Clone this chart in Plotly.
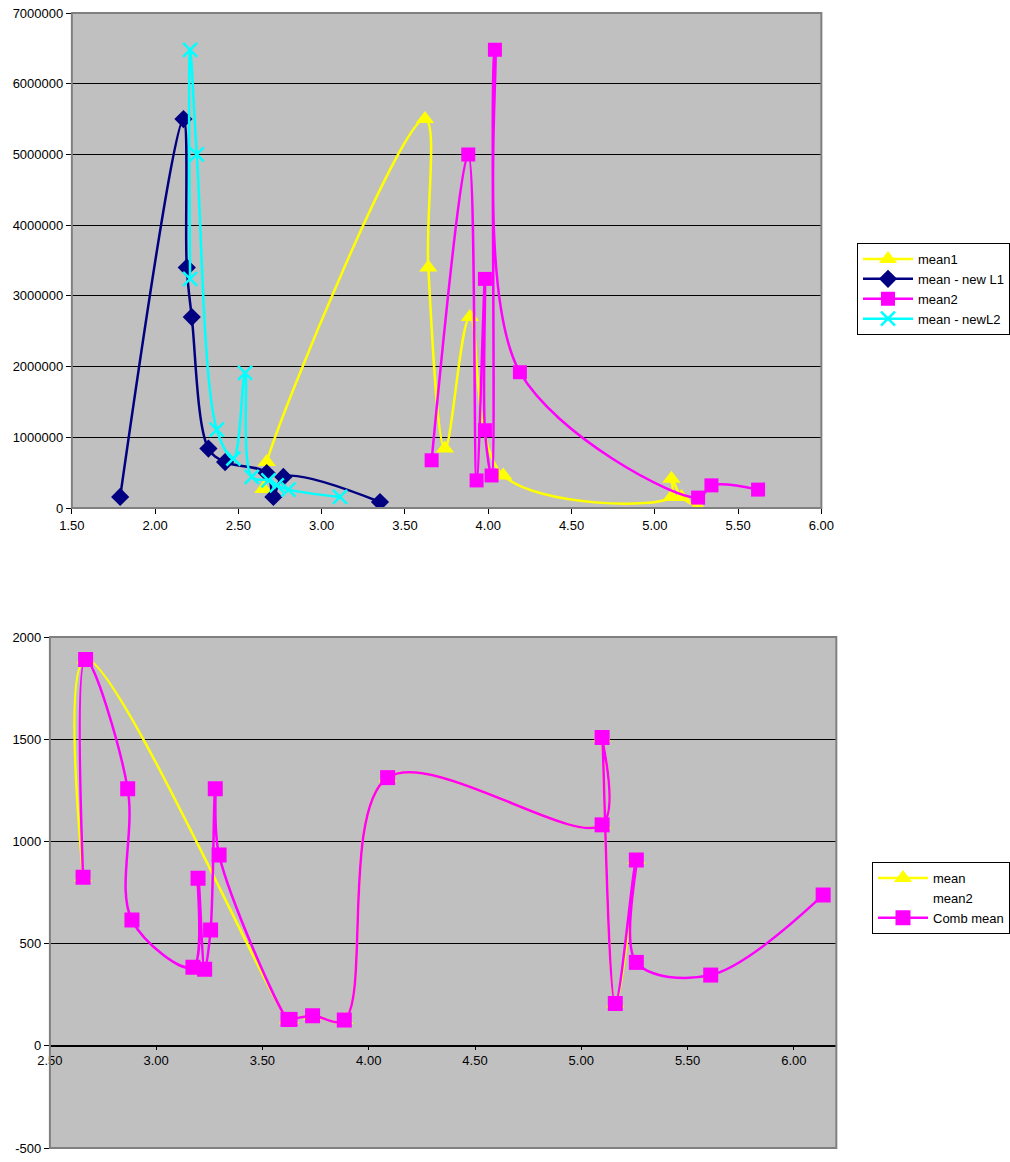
import plotly.graph_objects as go

# ---------------- Top chart data ----------------
mean1_x = [2.65, 2.67, 3.62, 3.64, 3.74, 3.89, 4.09, 5.10, 5.10, 5.16, 5.26]
mean1_y = [270000, 650000, 5500000, 3400000, 840000, 2700000, 460000, 156000, 415000, 156000, 10000]

newL1_x = [1.79, 2.17, 2.19, 2.22, 2.32, 2.42, 2.67, 2.71, 2.77, 3.35]
newL1_y = [156000, 5500000, 3400000, 2700000, 840000, 650000, 495000, 156000, 440000, 85000]

mean2_x = [3.66, 3.88, 3.93, 3.98, 3.98, 4.02, 4.04, 4.19, 5.26, 5.34, 5.62]
mean2_y = [675000, 5000000, 390000, 3240000, 1100000, 460000, 6480000, 1920000, 147000, 320000, 260000]

newL2_x = [2.21, 2.21, 2.25, 2.37, 2.47, 2.54, 2.58, 2.68, 2.73, 2.80, 3.11]
newL2_y = [3240000, 6480000, 5000000, 1110000, 700000, 1910000, 440000, 390000, 320000, 260000, 156000]

# ---------------- Bottom chart data ----------------
mean_x = [2.656, 2.668, 3.62, 3.63, 3.736, 3.885, 4.089, 5.098, 5.098, 5.16, 5.259]
mean_y = [825, 1890, 129, 129, 147, 126, 1312, 1081, 1508, 207, 909]

comb_x = [2.656, 2.668, 2.866, 2.886, 3.173, 3.197, 3.228, 3.256, 3.278, 3.296,
          3.62, 3.63, 3.736, 3.885, 4.089, 5.098, 5.098, 5.16, 5.259, 5.259, 5.609, 6.138]
comb_y = [825, 1890, 1257, 615, 384, 820, 374, 567, 1257, 934,
          129, 129, 147, 126, 1312, 1081, 1508, 207, 909, 408, 346, 738]

top_xticks = [1.5, 2.0, 2.5, 3.0, 3.5, 4.0, 4.5, 5.0, 5.5, 6.0]
top_yticks = [0, 1000000, 2000000, 3000000, 4000000, 5000000, 6000000, 7000000]
bot_xticks = [2.5, 3.0, 3.5, 4.0, 4.5, 5.0, 5.5, 6.0]
bot_yticks = [-500, 0, 500, 1000, 1500, 2000]

W, H = 1010, 1162
FONT = "Liberation Sans, Arial, sans-serif"
FS = 13

def px(x):
    return x / W

def py(y):
    return 1 - y / H

top_dom_x = [px(72), px(823)]
top_dom_y = [py(508), py(13)]
bot_dom_x = [px(50), px(838)]
bot_dom_y = [py(1148), py(637)]

fig = go.Figure()

LW = 2.5
# top traces
fig.add_trace(go.Scatter(x=mean1_x, y=mean1_y, name="mean1", mode="lines+markers",
                         line=dict(color="#FFFF00", width=LW, shape="spline", smoothing=1),
                         marker=dict(symbol="triangle-up", size=16, color="#FFFF00"),
                         xaxis="x", yaxis="y", legend="legend"))
fig.add_trace(go.Scatter(x=newL1_x, y=newL1_y, name="mean - new L1", mode="lines+markers",
                         line=dict(color="#000080", width=LW, shape="spline", smoothing=1),
                         marker=dict(symbol="diamond", size=14, color="#000080"),
                         xaxis="x", yaxis="y", legend="legend"))
fig.add_trace(go.Scatter(x=mean2_x, y=mean2_y, name="mean2", mode="lines+markers",
                         line=dict(color="#FF00FF", width=LW, shape="spline", smoothing=1),
                         marker=dict(symbol="square", size=14, color="#FF00FF"),
                         xaxis="x", yaxis="y", legend="legend"))
fig.add_trace(go.Scatter(x=newL2_x, y=newL2_y, name="mean - newL2", mode="lines+markers",
                         line=dict(color="#00FFFF", width=LW, shape="spline", smoothing=1),
                         marker=dict(symbol="x-thin", size=14, color="#00FFFF",
                                     line=dict(color="#00FFFF", width=2.5)),
                         xaxis="x", yaxis="y", legend="legend"))

# bottom traces
fig.add_trace(go.Scatter(x=mean_x, y=mean_y, name="mean", mode="lines+markers",
                         line=dict(color="#FFFF00", width=LW, shape="spline", smoothing=1),
                         marker=dict(symbol="triangle-up", size=16, color="#FFFF00"),
                         xaxis="x2", yaxis="y2", legend="legend2"))
fig.add_trace(go.Scatter(x=[None], y=[None], name="mean2", mode="lines",
                         line=dict(color="rgba(0,0,0,0)", width=LW),
                         xaxis="x2", yaxis="y2", legend="legend2"))
fig.add_trace(go.Scatter(x=comb_x, y=comb_y, name="Comb mean", mode="lines+markers",
                         line=dict(color="#FF00FF", width=LW, shape="spline", smoothing=1),
                         marker=dict(symbol="square", size=15, color="#FF00FF"),
                         xaxis="x2", yaxis="y2", legend="legend2"))

axis_common = dict(zeroline=False, ticks="outside", automargin=False,
                   tickcolor="black", tickfont=dict(family=FONT, size=FS, color="black"),
                   showline=True, linecolor="black", linewidth=1)

fig.update_layout(
    width=W, height=H,
    autosize=False,
    margin=dict(l=0, r=0, t=0, b=0, pad=0),
    paper_bgcolor="white",
    plot_bgcolor="#C0C0C0",
    font=dict(family=FONT, size=FS, color="black"),
    xaxis=dict(domain=top_dom_x, range=[1.5, 6.0], tickvals=top_xticks, tickformat=".2f",
               anchor="y", showgrid=False, ticklen=5, **axis_common),
    yaxis=dict(domain=top_dom_y, range=[0, 7000000], tickvals=top_yticks,
               ticktext=[str(v) for v in top_yticks], ticklen=5,
               anchor="x", showgrid=True, gridcolor="black", gridwidth=1, **axis_common),
    xaxis2=dict(domain=bot_dom_x, range=[2.5, 6.2], tickvals=bot_xticks, tickformat=".2f",
                anchor="free", position=bot_dom_y[0] + (500 / 2500) * (bot_dom_y[1] - bot_dom_y[0]),
                showgrid=False, ticklen=3, **axis_common),
    yaxis2=dict(domain=bot_dom_y, range=[-500, 2000], tickvals=bot_yticks,
                ticktext=[str(v) for v in bot_yticks], ticklen=5,
                anchor="x2", showgrid=True, gridcolor="black", gridwidth=1, **axis_common),
    legend=dict(x=px(859), y=py(243), xanchor="left", yanchor="top",
                bordercolor="black", borderwidth=1, bgcolor="white",
                font=dict(family=FONT, size=FS), itemwidth=50, tracegroupgap=0),
    legend2=dict(x=px(874), y=py(862), xanchor="left", yanchor="top",
                 bordercolor="black", borderwidth=1, bgcolor="white",
                 font=dict(family=FONT, size=FS), itemwidth=50, tracegroupgap=0),
    showlegend=True,
)

# plot-area borders
for dx, dy in [(top_dom_x, top_dom_y), (bot_dom_x, bot_dom_y)]:
    fig.add_shape(type="rect", xref="paper", yref="paper",
                  x0=dx[0], x1=dx[1], y0=dy[0], y1=dy[1],
                  line=dict(color="#808080", width=2), layer="above")

post = ("document.body.style.margin='0';document.body.style.padding='0';"
        "document.documentElement.style.overflow='hidden';"
        "var gd=document.getElementById('{plot_id}');"
        "Plotly.relayout(gd,{width:1010,height:1162});")

fig.write_html("out.html", config={"responsive": False}, post_script=post)
